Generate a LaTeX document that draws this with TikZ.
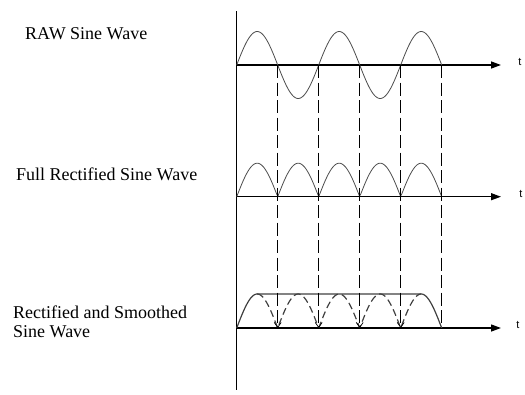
\documentclass[tikz,border=0pt]{standalone}
\usepackage{fontspec}
\setmainfont{Liberation Serif}
\newfontfamily\tfont{Liberation Sans}
\usetikzlibrary{arrows.meta}
\begin{document}
\begin{tikzpicture}[x=1pt,y=-1pt,
  axis/.style={line width=1.3pt,-{Triangle[length=10pt,width=7pt]}},
  wave/.style={line width=0.8pt,color=black!70},
  smoothw/.style={line width=1.2pt,color=black!75},
  guide/.style={line width=0.7pt,dash pattern=on 13pt off 4.5pt},
  lbl/.style={font=\fontsize{18}{19}\selectfont,inner sep=0pt,anchor=base west,align=left},
  tlbl/.style={font=\tfont\fontsize{11}{12}\selectfont,inner sep=0pt}]
\useasboundingbox (0,0) rectangle (525,394);
% labels
\node[lbl] (raw) at (25,39.3) {RAW Sine Wave};
\node[lbl] (full) at (16,180) {Full Rectified Sine Wave};
\node[lbl] (smooth) at (13,318) {Rectified and Smoothed};
\node[lbl] (smooth2) at (13,337) {Sine Wave};
% vertical axis
\coordinate (vtop) at (236.7,11);
\coordinate (vbot) at (236.7,390);
\draw[line width=1pt] (vtop) -- (vbot);
% horizontal axes
\coordinate (a1s) at (236.7,65);  \coordinate (a1e) at (501,65);
\coordinate (a2s) at (236.7,196.7); \coordinate (a2e) at (501,196.7);
\coordinate (a3s) at (236.7,328); \coordinate (a3e) at (501,328);
\draw[axis] (a1s) -- (a1e);
\draw[axis] (a2s) -- (a2e);
\draw[axis] (a3s) -- (a3e);
\node[tlbl] (t1) at (520,62) {t};
\node[tlbl] (t2) at (521,194) {t};
\node[tlbl] (t3) at (518,325) {t};
% raw sine
\draw[wave] plot[domain=0:205,samples=150] ({236.7+\x},{65-33.5*sin(\x/41*180)});
% full rectified
\draw[wave] plot[domain=0:205,samples=200] ({236.7+\x},{196.7-33.5*abs(sin(\x/41*180))});
% smoothed
\draw[smoothw] plot[domain=0:20.5,samples=30] ({236.7+\x},{328-34*sin(\x/41*180)})
  -- plot[domain=184.5:205,samples=30] ({236.7+\x},{328-34*sin(\x/41*180)});
\draw[smoothw,dash pattern=on 7pt off 4pt] plot[domain=20.5:184.5,samples=200] ({236.7+\x},{328-34*abs(sin(\x/41*180))});
% guides
\foreach \k in {1,...,5} {
  \coordinate (gt\k) at ({236.7+41*\k},65);
  \coordinate (gb\k) at ({236.7+41*\k},328);
}
\foreach \k in {1,...,4}
  \draw[guide,-{Straight Barb[length=5pt,width=7pt]}] (gt\k) -- (gb\k);
\draw[guide] (gt5) -- (gb5);
\end{tikzpicture}
\end{document}
